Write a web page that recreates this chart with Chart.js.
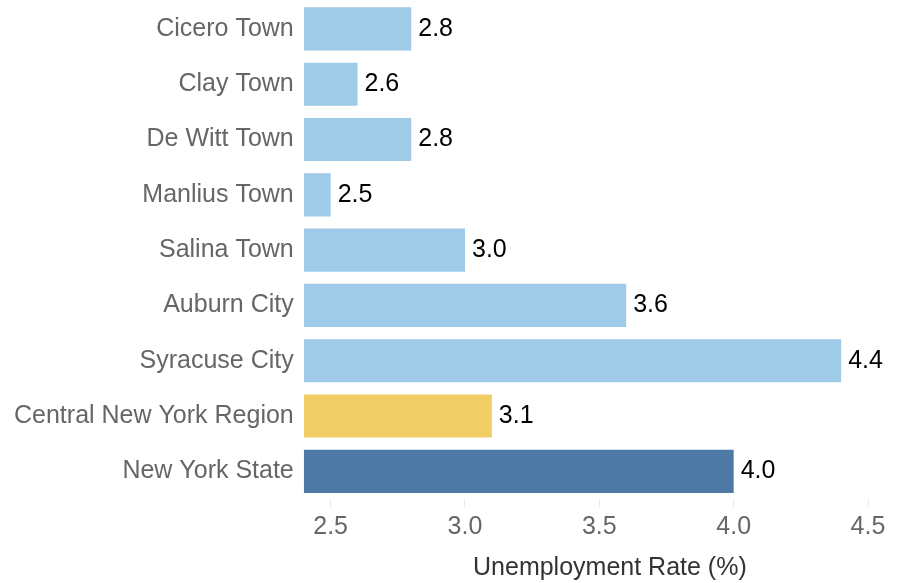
<!DOCTYPE html>
<html>
<head>
<meta charset="utf-8">
<script src="https://cdn.jsdelivr.net/npm/chart.js@4.4.1/dist/chart.umd.min.js"></script>
<style>
  body { margin: 0; background: #fff; }
  #wrap { width: 898px; height: 583px; }
</style>
</head>
<body>
<div id="wrap"><canvas id="RateChart" width="898" height="583"></canvas></div>
<script>
const places = ['Cicero Town', 'Clay Town', 'De Witt Town', 'Manlius Town', 'Salina Town',
  'Auburn City', 'Syracuse City', 'Central New York Region', 'New York State'];
const rates = [2.8, 2.6, 2.8, 2.5, 3.0, 3.6, 4.4, 3.1, 4.0];
const barColors = ['#9fcae8', '#9fcae8', '#9fcae8', '#9fcae8', '#9fcae8',
  '#9fcae8', '#9fcae8', '#f0cd65', '#4e79a7'];
const xTicks = [2.5, 3.0, 3.5, 4.0, 4.5];
const xTitle = 'Unemployment Rate (%)';

const FONT = '"Liberation Sans", Arial, sans-serif';

// value labels at the end of every bar, plus the x axis title
// (the title sits a bit right of the plot centre in the original)
const valueLabels = {
  id: 'valueLabels',
  afterDatasetsDraw(chart) {
    const ctx = chart.ctx;
    const meta = chart.getDatasetMeta(0);
    ctx.save();
    ctx.font = '25px ' + FONT;
    ctx.fillStyle = '#000';
    ctx.textAlign = 'left';
    ctx.textBaseline = 'middle';
    meta.data.forEach((bar, i) => {
      ctx.fillText(rates[i].toFixed(1), bar.x + 7, bar.y);
    });

    const area = chart.chartArea;
    ctx.fillStyle = '#333';
    ctx.textAlign = 'center';
    ctx.fillText(xTitle, (area.left + area.right) / 2 + 24, chart.scales.x.bottom - 15);
    ctx.restore();
  }
};

const ctx = document.getElementById('RateChart');

new Chart(ctx, {
  type: 'bar',
  data: {
    labels: places,
    datasets: [{
      data: rates,
      backgroundColor: barColors,
      borderWidth: 0,
      barPercentage: 0.78,
      categoryPercentage: 1.0,
      base: 2.4
    }]
  },
  options: {
    indexAxis: 'y',
    responsive: false,
    animation: false,
    layout: { padding: { left: 14, right: 30, top: 0, bottom: 0 } },
    plugins: {
      legend: { display: false },
      tooltip: { enabled: false }
    },
    scales: {
      x: {
        min: 2.4,
        max: 4.5,
        afterBuildTicks: (scale) => { scale.ticks = xTicks.map(v => ({ value: v })); },
        afterFit: (scale) => { scale.height += 36; },
        border: { display: false },
        grid: { drawOnChartArea: false, drawTicks: true, tickLength: 8, color: '#e8e8e8' },
        ticks: {
          color: '#666',
          padding: 5,
          font: { family: FONT, size: 25 },
          callback: (v) => Number(v).toFixed(1)
        }
      },
      y: {
        border: { display: false },
        grid: { display: false, tickLength: 10 },
        ticks: {
          color: '#666',
          padding: 0,
          font: { family: FONT, size: 25, lineHeight: 0.1 }
        }
      }
    }
  },
  plugins: [valueLabels]
});
</script>
</body>
</html>
